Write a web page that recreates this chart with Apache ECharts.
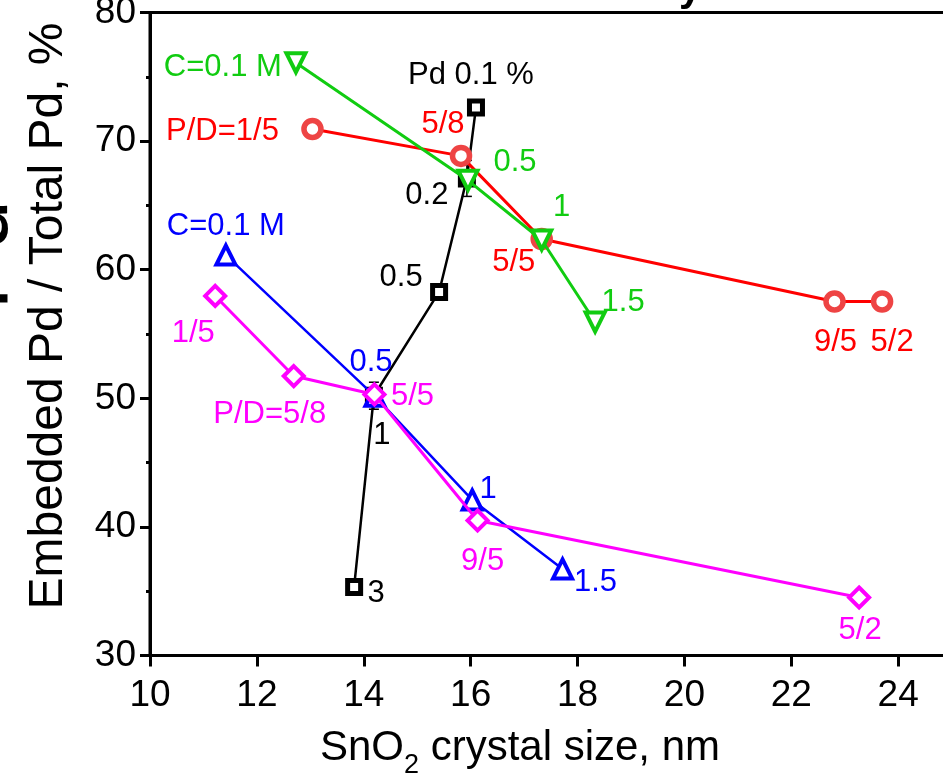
<!DOCTYPE html>
<html>
<head>
<meta charset="utf-8">
<script src="https://cdn.jsdelivr.net/npm/echarts@6/dist/echarts.min.js"></script>
<style>
html,body{margin:0;padding:0;background:#fff;}
#chart{width:943px;height:776px;}
</style>
</head>
<body>
<div id="chart"></div>
<script>
// ---- data ----
const xTicks = [10, 12, 14, 16, 18, 20, 22, 24];
const yTicks = [30, 40, 50, 60, 70, 80];

const pdX = [16.10, 15.93, 15.41, 14.19, 13.82];
const pdY = [72.61, 67.10, 58.27, 50.20, 35.33];
const pdErr = [0, 1.4, 0, 1.05, 0];
const pdLabels = ['Pd 0.1 %', '0.2', '0.5', '1', '3'];

const redX = [13.04, 15.82, 17.33, 22.81, 23.70];
const redY = [70.94, 68.85, 62.39, 57.53, 57.53];
const redLabels = ['P/D=1/5', '5/8', '5/5', '9/5', '5/2'];

const greenX = [12.73, 15.95, 17.33, 18.33];
const greenY = [76.10, 66.95, 62.31, 55.93];
const greenLabels = ['C=0.1 M', '0.5', '1', '1.5'];

const blueX = [11.42, 14.21, 16.03, 17.72];
const blueY = [61.14, 50.15, 42.10, 36.73];
const blueLabels = ['C=0.1 M', '0.5', '1', '1.5'];

const magX = [11.22, 12.69, 14.20, 16.13, 23.27];
const magY = [57.96, 51.73, 50.30, 40.50, 34.51];
const magLabels = ['1/5', 'P/D=5/8', '5/5', '9/5', '5/2'];

const xTitle = 'SnO{sub|2} crystal size, nm';
const yTitle = 'Embedded Pd / Total Pd, %';

// ---- label placement (pixel offsets from marker centre) ----
const pdOff = [[-5, -32], [-40, 17], [-38, -14], [8, 40], [22, 6]];
const redOff = [[-90, 2], [-18, -31], [-28, 23], [1, 41], [10, 41]];
const greenOff = [[-73, 5], [47, -18], [20, -33], [28, -20]];
const blueOff = [[0, -29], [-4, -34], [16, -10], [33, 14]];
const magOff = [[-22, 38], [-24, 38], [38, 2], [5, 41], [1, 33]];

const FONT = 'Liberation Sans, Arial, Helvetica, sans-serif';

function makeData(xs, ys, labels, offs, color) {
  return xs.map((x, i) => ({
    value: [x, ys[i]],
    label: {
      show: true,
      formatter: labels[i],
      position: 'inside',
      offset: offs[i],
      color: color,
      fontSize: 31,
      fontFamily: FONT,
      align: 'center',
      verticalAlign: 'middle'
    }
  }));
}

function lineSeries(name, xs, ys, labels, offs, lineColor, symColor, labelColor, symbol, size, bw, rot, lw, z) {
  return {
    name: name,
    type: 'line',
    data: makeData(xs, ys, labels, offs, labelColor),
    symbol: symbol,
    symbolSize: size,
    symbolRotate: rot,
    showAllSymbol: true,
    z: z,
    lineStyle: { color: lineColor, width: lw },
    itemStyle: { color: '#ffffff', borderColor: symColor, borderWidth: bw },
    emphasis: { disabled: true },
    animation: false
  };
}

const chart = echarts.init(document.getElementById('chart'), null, { renderer: 'canvas' });

const option = {
  animation: false,
  backgroundColor: '#ffffff',
  grid: {
    left: 150, top: 12.5, bottom: 120.5, right: -62,
    outerBoundsMode: 'none',
    containLabel: false,
    show: true, borderColor: '#000', borderWidth: 3, backgroundColor: 'transparent'
  },
  xAxis: {
    type: 'value',
    min: 10, max: 26, interval: 2,
    axisLine: { show: true, onZero: false, lineStyle: { color: '#000', width: 3 } },
    axisTick: { show: true, length: 11, lineStyle: { color: '#000', width: 3 } },
    axisLabel: {
      fontSize: 37, fontFamily: FONT, color: '#000', margin: 22,
      formatter: v => (xTicks.indexOf(v) >= 0 ? String(v) : '')
    },
    splitLine: { show: false }
  },
  yAxis: {
    type: 'value',
    min: 30, max: 80, interval: 10,
    axisLine: { show: true, onZero: false, lineStyle: { color: '#000', width: 3 } },
    axisTick: { show: true, length: 10, lineStyle: { color: '#000', width: 3 } },
    minorTick: { show: true, splitNumber: 2, length: 4, lineStyle: { color: '#000', width: 3 } },
    axisLabel: {
      fontSize: 37, fontFamily: FONT, color: '#000', margin: 14,
      formatter: v => (yTicks.indexOf(v) >= 0 ? String(v) : '')
    },
    splitLine: { show: false }
  },
  graphic: [
    {
      type: 'text', x: 520, y: 748, silent: true,
      style: {
        text: xTitle, fontSize: 42, fontFamily: FONT, fill: '#000', align: 'center', verticalAlign: 'middle',
        rich: { sub: { fontSize: 27, fontFamily: FONT, fill: '#000', verticalAlign: 'bottom', padding: [0, 0, -10, 0] } }
      }
    },
    {
      type: 'text', x: 49, y: 316, rotation: Math.PI / 2, silent: true,
      style: { text: yTitle, fontSize: 48, fontFamily: FONT, fill: '#000', align: 'center', verticalAlign: 'middle' }
    },
    {
      type: 'text', x: 27, y: 255, rotation: Math.PI / 2, silent: true,
      style: { text: 'Pd', fontSize: 90, fontFamily: FONT, fill: '#000', align: 'center', verticalAlign: 'bottom' }
    },
    {
      type: 'text', x: 690, y: 10, silent: true,
      style: { text: 'y', fontSize: 40, fontFamily: FONT, fontWeight: 'bold', fill: '#000', align: 'center', verticalAlign: 'bottom' }
    }
  ],
  series: [
    lineSeries('Pd', pdX, pdY, pdLabels, pdOff, '#000000', '#000000', '#000000', 'rect', 13, 5, 0, 2.5, 3),
    {
      type: 'custom',
      name: 'pdErr',
      z: 3,
      animation: false,
      silent: true,
      data: pdX.map((x, i) => [x, pdY[i], pdErr[i]]),
      renderItem: function (params, api) {
        const x = api.value(0), y = api.value(1), e = api.value(2);
        if (!e) return null;
        const top = api.coord([x, y + e]);
        const bot = api.coord([x, y - e]);
        const hw = 5;
        return {
          type: 'group',
          children: [
            { type: 'line', shape: { x1: top[0], y1: top[1], x2: bot[0], y2: bot[1] }, style: { stroke: '#000', lineWidth: 1.5 } },
            { type: 'line', shape: { x1: top[0] - hw, y1: top[1], x2: top[0] + hw, y2: top[1] }, style: { stroke: '#000', lineWidth: 1.5 } },
            { type: 'line', shape: { x1: bot[0] - hw, y1: bot[1], x2: bot[0] + hw, y2: bot[1] }, style: { stroke: '#000', lineWidth: 1.5 } }
          ]
        };
      }
    },
    lineSeries('P/D red', redX, redY, redLabels, redOff, '#ff0000', '#ee4444', '#ff0000', 'circle', 17, 5.5, 0, 3, 4),
    lineSeries('C blue', blueX, blueY, blueLabels, blueOff, '#0000ff', '#0000ff', '#0000ff', 'triangle', 19, 4, 0, 2.5, 5),
    lineSeries('C green', greenX, greenY, greenLabels, greenOff, '#11cc11', '#11cc11', '#11cc11', 'triangle', 19, 4, 180, 3, 6),
    lineSeries('P/D magenta', magX, magY, magLabels, magOff, '#ff00ff', '#ff00ff', '#ff00ff', 'diamond', 20, 4, 0, 3, 7)
  ]
};

chart.setOption(option);
</script>
</body>
</html>
